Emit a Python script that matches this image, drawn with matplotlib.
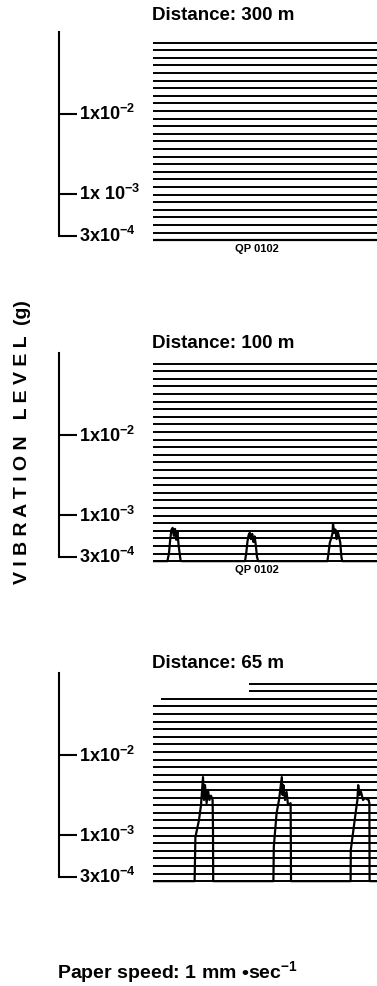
import numpy as np
import matplotlib.pyplot as plt

plt.rcParams['font.family'] = ['Liberation Sans', 'DejaVu Sans']
plt.rcParams['font.weight'] = 'bold'
plt.rcParams['mathtext.fontset'] = 'custom'
plt.rcParams['mathtext.rm'] = 'Liberation Sans:bold'
plt.rcParams['mathtext.it'] = 'Liberation Sans:bold'
plt.rcParams['mathtext.bf'] = 'Liberation Sans:bold'

# Chart data (vibration level in g, time in s along the strip)

distances = ['Distance: 300 m', 'Distance: 100 m', 'Distance: 65 m']
tick_values = [1e-2, 1e-3, 3e-4]
tick_labels = [
    [r'1x10$^{-2}$', r'1x 10$^{-3}$', r'3x10$^{-4}$'],
    [r'1x10$^{-2}$', r'1x10$^{-3}$', r'3x10$^{-4}$'],
    [r'1x10$^{-2}$', r'1x10$^{-3}$', r'3x10$^{-4}$'],
]
baseline = 2.65e-4

t_300 = [0, 56]
v_300 = [baseline, baseline]

t_100 = [0, 3.6, 4.0, 4.3, 4.6, 4.9, 5.2, 5.5, 5.8, 6.1, 6.4, 6.7, 6.9, 7.2,
         23.0, 23.3, 23.6, 23.9, 24.2, 24.5, 24.8, 25.1, 25.4, 25.7, 26.0, 26.3,
         43.6, 43.9, 44.2, 44.6, 44.9, 45.0, 45.3, 45.6, 45.9, 46.2, 46.5, 46.8, 47.1, 47.3, 56]
v_100 = [baseline, baseline, 3.35e-4, 4.9e-4, 6.5e-4, 6.9e-4, 5.5e-4, 6.7e-4, 4.9e-4, 6.3e-4, 4.2e-4, 3.2e-4, 2.7e-4, baseline,
         baseline, 3.3e-4, 4.6e-4, 5.6e-4, 6.0e-4, 5.0e-4, 5.8e-4, 4.6e-4, 5.4e-4, 4.2e-4, 3.0e-4, baseline,
         baseline, 3.4e-4, 4.5e-4, 5.2e-4, 6.0e-4, 7.8e-4, 6.0e-4, 6.6e-4, 5.0e-4, 6.2e-4, 5.3e-4, 4.6e-4, 3.0e-4, baseline, baseline]

t_65 = [0, 10.4, 10.6, 11.5, 12.0, 12.5, 12.75, 13.0, 13.4, 13.75, 14.1, 14.5, 14.9, 15.0, 15.05,
        30.1, 30.2, 30.9, 31.5, 32.2, 32.4, 32.6, 33.0, 33.4, 33.75, 34.4, 34.45, 34.5,
        49.4, 49.45, 50.75, 51.1, 51.3, 51.6, 52.0, 52.5, 53.0, 53.9, 54.1, 54.15, 56]
v_65 = [baseline, baseline, 9.4e-4, 1.54e-3, 2.37e-3, 5.3e-3, 2.74e-3, 4.2e-3, 2.5e-3, 3.66e-3, 2.74e-3, 3.1e-3, 2.74e-3, 1.15e-3, baseline,
        baseline, 7.1e-4, 1.88e-3, 2.74e-3, 5.3e-3, 3.16e-3, 4.2e-3, 2.74e-3, 3.45e-3, 2.37e-3, 2.5e-3, 1.0e-3, baseline,
        baseline, 6.5e-4, 2.05e-3, 2.74e-3, 4.2e-3, 3.16e-3, 3.45e-3, 2.74e-3, 2.9e-3, 2.74e-3, 2.5e-3, baseline, baseline]

traces = [(t_300, v_300), (t_100, v_100), (t_65, v_65)]

# chart paper ruling (27 evenly spaced lines on the log scale)
ruling = np.geomspace(baseline, 0.078, 27)
ruling_start_65 = {26: 24, 25: 24, 24: 2}

# Layout (pixels)

W, H = 377, 986
ymin, ymax = 2.4e-4, 0.13
px_dec = 80
tick_px = [114, 435, 755]
title_px = [15, 343, 663]

fig = plt.figure(figsize=(W / 100, H / 100), dpi=100)


def box(x0, y0, x1, y1):
    return [x0 / W, 1 - y1 / H, (x1 - x0) / W, (y1 - y0) / H]


for k in range(3):
    yk = tick_px[k]
    top = yk - px_dec * np.log10(ymax / 1e-2)
    bot = yk + px_dec * np.log10(1e-2 / ymin)

    # scale bar
    bar = fig.add_axes(box(59, top, 150, bot))
    bar.set_yscale('log')
    bar.set_ylim(ymin, ymax)
    bar.set_xlim(0, 1)
    for s in ['top', 'right', 'bottom']:
        bar.spines[s].set_visible(False)
    bar.spines['left'].set_linewidth(1.5)
    bar.spines['left'].set_bounds(3e-4, 0.105)
    bar.set_yticks(tick_values)
    bar.yaxis.set_minor_locator(plt.NullLocator())
    bar.set_yticklabels([])
    bar.set_xticks([])
    bar.tick_params(axis='y', direction='in', length=13, width=1.5)
    bar.patch.set_alpha(0)
    for val, lab in zip(tick_values, tick_labels[k]):
        bar.text(20 / 91, val * 10 ** (-6.5 / px_dec), lab, fontsize=13,
                 va='baseline', ha='left', transform=bar.get_yaxis_transform())

    # strip chart
    ax = fig.add_axes(box(153, top, W, bot))
    ax.set_yscale('log')
    ax.set_ylim(ymin, ymax)
    ax.set_xlim(0, 56)
    ax.axis('off')
    for i, lev in enumerate(ruling):
        x0 = ruling_start_65.get(i, 0) if k == 2 else 0
        ax.hlines(lev, x0, 56, color='black', lw=1.4)
    t, v = traces[k]
    ax.plot(t, v, color='black', lw=1.6, solid_joinstyle='round')

    fig.text(152 / W, 1 - title_px[k] / H, distances[k], fontsize=13.5,
             ha='left', va='center')
    if k < 2:
        fig.text(257 / W, 1 - (yk + 135) / H, 'QP 0102', fontsize=8,
                 ha='center', va='center')

fig.text(23 / W, 1 - 442 / H, 'V I B R A T I O N   L E V E L  (g)', fontsize=14,
         rotation=90, ha='center', va='center')
fig.text(57 / W, 1 - 972 / H, r'Paper speed: 1 mm •sec$^{-1}$', fontsize=14,
         ha='left', va='center')

fig.savefig('out.png', dpi=100)
